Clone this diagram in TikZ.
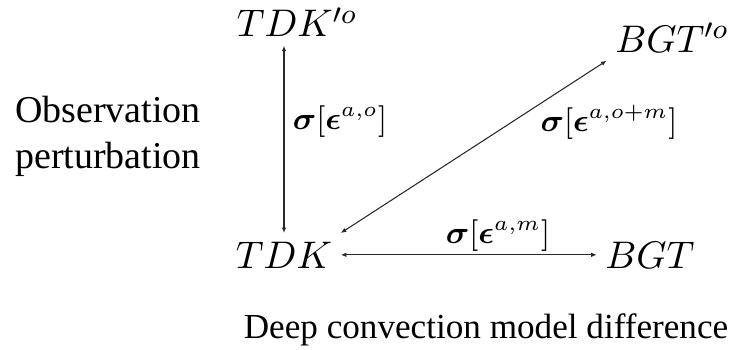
\documentclass[tikz,border=0pt]{standalone}
\usepackage{amsmath}
\usepackage{amssymb}
\usepackage{fontspec}
\setmainfont{Liberation Serif}
\usepackage{xcolor}
\definecolor{lnGray}{RGB}{40,40,40}
\usepackage{tikz}
\usetikzlibrary{arrows.meta, positioning, calc}

\tikzset{
  model/.style={inner sep=0.8mm, font=\fontsize{10.8}{13}\selectfont},
  errlabel/.style={inner sep=0pt, font=\fontsize{9}{11}\selectfont},
  caption/.style={inner sep=0pt, align=center},
  link/.style={draw=lnGray, line width=0.3pt, {Latex[length=0.55mm,width=0.45mm]}-{Latex[length=0.55mm,width=0.45mm]}}
}

\begin{document}
\begin{tikzpicture}[x=0.1mm, y=-0.1mm]
  \useasboundingbox (0,0) rectangle (733,349);

  % Models
  \node[model, anchor=base] (TDKo) at (297,37) {$TDK'^{o}$};
  \node[model, anchor=base] (BGTo) at (672,52) {$BGT'^{o}$};
  \node[model, anchor=base] (TDK) at (284,268) {$TDK$};
  \node[model, anchor=base] (BGT) at (650,268) {$BGT$};

  % Connectors
  \draw[link] (TDK.north) -- (TDK.north |- TDKo.south);
  \draw[link] (TDK.north east) -- (BGTo.south west);
  \draw[link] (TDK.east) -- (BGT.west);

  % Error labels
  \node[errlabel] (sigO) at (340,122) {$\boldsymbol{\sigma}[\boldsymbol{\epsilon}^{a,o}]$};
  \node[errlabel] (sigOM) at (609,122) {$\boldsymbol{\sigma}[\boldsymbol{\epsilon}^{a,o+m}]$};
  \node[errlabel] (sigM) at (498,236) {$\boldsymbol{\sigma}[\boldsymbol{\epsilon}^{a,m}]$};

  % Axis captions
  \node[caption, font=\fontsize{10.8}{13.1}\selectfont] (obs) at (108,136) {Observation\\perturbation};
  \node[caption, font=\fontsize{10}{12}\selectfont, anchor=base] (deep) at (486,338) {Deep convection model difference};
\end{tikzpicture}
\end{document}
